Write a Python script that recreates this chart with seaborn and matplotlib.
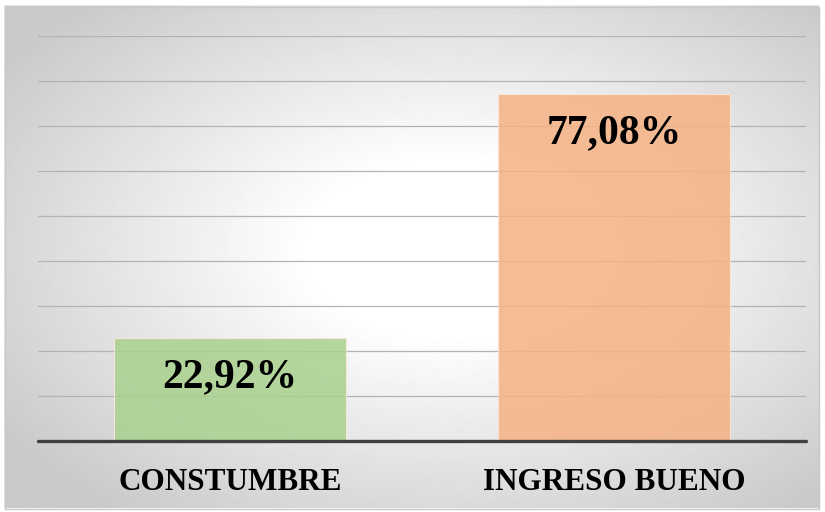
import numpy as np
import pandas as pd
import matplotlib
matplotlib.use("Agg")
import matplotlib.pyplot as plt
import seaborn as sns

categories = ["CONSTUMBRE", "INGRESO BUENO"]
values = [22.92, 77.08]
value_labels = ["22,92%", "77,08%"]
bar_colors = ["#A9D18E", "#F4B183"]

W, H = 825, 512
sns.set_style("white")
plt.rcParams["font.family"] = ["Liberation Serif", "DejaVu Serif"]

fig = plt.figure(figsize=(W / 100, H / 100), dpi=100)

# radial gradient background inside a thin grey frame
bg = fig.add_axes([0, 0, 1, 1])
yy, xx = np.mgrid[0:H, 0:W]
r = np.sqrt(((xx - 450) / 470.0) ** 2 + ((yy - 250) / 290.0) ** 2)
shade = 1.0 - 0.21 * np.clip((r - 0.3) / 0.85, 0, 1)
img = np.ones((H, W))
x0, y0, x1, y1 = 5, 7, 819, 509
img[y0:y1, x0:x1] = shade[y0:y1, x0:x1]
bg.imshow(img, cmap="gray", vmin=0, vmax=1, aspect="auto", interpolation="bilinear")
bg.plot([x0, x1, x1, x0, x0], [y0, y0, y1, y1, y0], color="#c8c8c8", lw=1)
bg.set_xlim(0, W)
bg.set_ylim(H, 0)
bg.axis("off")

ax = fig.add_axes([38 / W, (H - 441) / H, 768 / W, (441 - 36) / H])
ax.patch.set_alpha(0)

df = pd.DataFrame({"cat": categories, "val": values})
sns.barplot(data=df, x="cat", y="val", hue="cat", palette=bar_colors,
            saturation=1, width=0.605, alpha=0.85, edgecolor="#fbe9dc",
            linewidth=0.8, legend=False, ax=ax, zorder=3)

ax.set_ylim(0, 90)
ax.set_xlim(-0.5, 1.5)
ax.set_yticks(np.arange(10, 91, 10))
ax.yaxis.grid(True, color="#b3b3b3", lw=0.9, zorder=1)
ax.set_axisbelow(True)
ax.tick_params(axis="y", left=False, labelleft=False)
ax.tick_params(axis="x", bottom=False, pad=16, labelcolor="black")
for s in ax.spines.values():
    s.set_visible(False)
ax.axhline(0, color="#404040", lw=2.4, zorder=4, clip_on=False)

ax.set_xticks(range(len(categories)))
ax.set_xticklabels(categories, fontsize=22.5, fontweight="bold", color="black")
ax.set_xlabel("")
ax.set_ylabel("")

for i, (v, lab) in enumerate(zip(values, value_labels)):
    ax.annotate(lab, (i, v), xytext=(0, -28), textcoords="offset points",
                ha="center", va="center", fontsize=30, fontweight="bold",
                color="black", zorder=5)

fig.savefig("out.png", dpi=100)
